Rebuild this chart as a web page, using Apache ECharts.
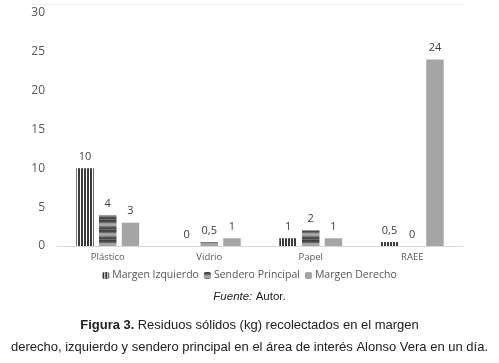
<!DOCTYPE html>
<html><head><meta charset="utf-8">
<script src="https://cdn.jsdelivr.net/npm/echarts@6/dist/echarts.min.js"></script>
<style>html,body{margin:0;padding:0;background:#fff}#c{width:499px;height:363px}</style>
</head><body><div id="c"></div>
<script>
const categories = ['Plástico', 'Vidrio', 'Papel', 'RAEE'];
const margenIzquierdo = [10, 0, 1, 0.5];
const senderoPrincipal = [4, 0.5, 2, 0];
const margenDerecho = [3, 1, 1, 24];
const seriesNames = ['Margen Izquierdo', 'Sendero Principal', 'Margen Derecho'];
const yTicks = { min: 0, max: 30, interval: 5 };

function stripeV() {
  const c = document.createElement('canvas'); c.width = 3; c.height = 3;
  const g = c.getContext('2d');
  g.fillStyle = '#ffffff'; g.fillRect(0, 0, 3, 3);
  g.fillStyle = '#3a3a3a'; g.fillRect(0, 0, 2, 3);
  return c;
}
function stripeH() {
  const rows = ['#404040', '#4a4a4a', '#6a6a6a', '#9a9a9a', '#aaaaaa', '#a0a0a0', '#7a7a7a', '#555555', '#454545', '#6e6e6e'];
  const c = document.createElement('canvas'); c.width = 4; c.height = rows.length;
  const g = c.getContext('2d');
  rows.forEach((col, i) => { g.fillStyle = col; g.fillRect(0, i, 4, 1); });
  return c;
}
const fills = [
  { image: stripeV(), repeat: 'repeat' },
  { image: stripeH(), repeat: 'repeat' },
  '#a5a5a5'
];
const dataSets = [margenIzquierdo, senderoPrincipal, margenDerecho];
const chart = echarts.init(document.getElementById('c'), null, { renderer: 'canvas' });
const fontF = '"Open Sans", sans-serif';
chart.setOption({
  animation: false,
  grid: { left: 57, right: 36, top: 13, bottom: 117 },
  legend: {
    bottom: 77, left: 'center',
    itemWidth: 7, itemHeight: 7, itemGap: 5,
    textStyle: { fontFamily: fontF, fontSize: 10.5, color: '#595959', padding: [0, 0, 0, -2] },
    data: seriesNames
  },
  xAxis: {
    type: 'category', data: categories,
    axisLine: { lineStyle: { color: '#d9d9d9' } },
    axisTick: { show: false },
    axisLabel: { fontFamily: fontF, fontSize: 9.5, color: '#595959', margin: 6 }
  },
  yAxis: {
    type: 'value', min: yTicks.min, max: yTicks.max, interval: yTicks.interval,
    splitLine: { show: false }, axisLine: { show: false }, axisTick: { show: false },
    axisLabel: { fontFamily: fontF, fontSize: 12, color: '#595959', margin: 12 }
  },
  series: seriesNames.map((n, i) => ({
    name: n, type: 'bar', data: dataSets[i],
    barGap: '30%', barCategoryGap: '38%',
    itemStyle: { color: fills[i] },
    label: {
      show: true, position: 'top', distance: 6,
      fontFamily: fontF, fontSize: 11, color: '#404040',
      formatter: p => String(p.value).replace('.', ',')
    }
  })),
  graphic: [
    { type: 'line', shape: { x1: 32, y1: 4.5, x2: 463, y2: 4.5 }, style: { stroke: '#eeeeee', lineWidth: 1 } },
    { type: 'text', left: 'center', top: 291, style: {
      text: '{i|Fuente:} {n|Autor.}',
      rich: {
        i: { fontFamily: 'Liberation Sans, Arial', fontStyle: 'italic', fontSize: 11.5, fill: '#222' },
        n: { fontFamily: 'Liberation Sans, Arial', fontSize: 11.5, fill: '#222' }
      } } },
    { type: 'text', left: 'center', top: 319, style: {
      text: '{b|Figura 3.} {n|Residuos sólidos (kg) recolectados en el margen}',
      rich: {
        b: { fontFamily: 'Liberation Sans, Arial', fontWeight: 'bold', fontSize: 13, fill: '#222' },
        n: { fontFamily: 'Liberation Sans, Arial', fontSize: 13, fill: '#222' }
      } } },
    { type: 'text', left: 'center', top: 341, style: {
      text: 'derecho, izquierdo y sendero principal en el área de interés Alonso Vera en un día.',
      fontFamily: 'Liberation Sans, Arial', fontSize: 13, fill: '#222' } }
  ]
});
</script></body></html>
